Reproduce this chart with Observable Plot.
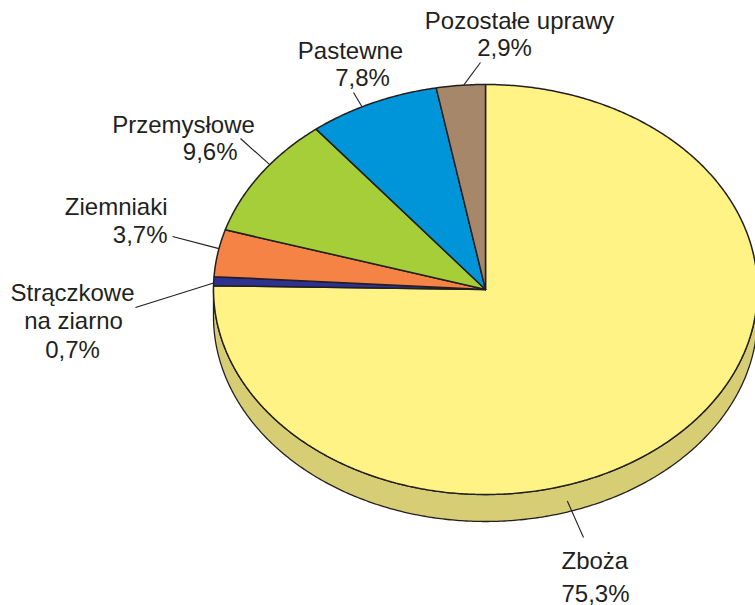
<!DOCTYPE html>
<html>
<head>
<meta charset="utf-8">
<script src="https://cdn.jsdelivr.net/npm/d3@7"></script>
<script src="https://cdn.jsdelivr.net/npm/@observablehq/plot@0.6"></script>
<style>
  html, body { margin: 0; padding: 0; background: #ffffff; }
  #chart { width: 755px; height: 605px; overflow: hidden; }
</style>
</head>
<body>
<div id="chart"></div>
<script>
// ---- data ----
const categoryLines = [["Zboża"], ["Strączkowe", "na ziarno"], ["Ziemniaki"], ["Przemysłowe"], ["Pastewne"], ["Pozostałe uprawy"]];
const categories = categoryLines.map(l => l.join(" "));
const shares = [75.3, 0.7, 3.7, 9.6, 7.8, 2.9];
const shareLabels = ["75,3%", "0,7%", "3,7%", "9,6%", "7,8%", "2,9%"];

// ---- styles ----
const topColors = ["#fff385", "#2e3192", "#f58345", "#a6ce39", "#0095d9", "#a6876a"];
const sideColors = ["#d7cd74", "#232670", "#c96a37", "#86a82e", "#0078b0", "#856c55"];
const ink = "#231f20";

// ---- layout (pixels) ----
const CX = 485, CY = 289, RX = 272, RY = 205, DEPTH = 27;
const toX = px => (px - CX) / RX;
const toY = py => (CY - py) / RY;
const depth = DEPTH / RY;

const labelLayout = [
  {lines: [[561, 568, "start"], [561, 601, "start"]], angle: 162.5, side: true, end: [583, 537]},
  {lines: [[72, 300, "middle"], [73, 328, "middle"], [72, 357, "middle"]], angle: 271.8, end: [135, 307]},
  {lines: [[167, 214, "end"], [167, 242, "end"]], angle: 281.5, end: [172, 236]},
  {lines: [[183, 132, "middle"], [237, 159, "end"]], angle: 307.5, end: [240, 138]},
  {lines: [[350, 58, "middle"], [362, 85, "middle"]], angle: 333, end: [353, 92]},
  {lines: [[519, 28, "middle"], [504, 55, "middle"]], angle: 355.4, end: [480, 62]}
];

// ---- geometry derived from data ----
const rad = d => d * Math.PI / 180;
const total = d3.sum(shares);
let acc = 0;
const slices = shares.map((v, i) => {
  const a0 = acc / total * 360;
  acc += v;
  const a1 = acc / total * 360;
  return {i, a0, a1};
});

function arcPts(a0, a1) {
  const n = Math.max(2, Math.ceil((a1 - a0) / 0.5));
  return d3.range(n + 1).map(k => {
    const a = a0 + (a1 - a0) * k / n;
    return [Math.sin(rad(a)), Math.cos(rad(a))];
  });
}

const topPts = [];
slices.forEach(s => {
  const pts = [[0, 0], ...arcPts(s.a0, s.a1), [0, 0]];
  pts.forEach(([x, y]) => topPts.push({key: "t" + s.i, x, y, fill: topColors[s.i]}));
});

const sidePts = [];
slices.forEach(s => {
  const b0 = Math.max(s.a0, 90), b1 = Math.min(s.a1, 270);
  if (b1 <= b0) return;
  const upper = arcPts(b0, b1);
  const lower = upper.slice().reverse().map(([x, y]) => [x, y - depth]);
  const pts = [...upper, ...lower, upper[0]];
  pts.forEach(([x, y]) => sidePts.push({key: "s" + s.i, x, y, fill: sideColors[s.i]}));
});

const leaders = labelLayout.map(l => {
  const x1 = Math.sin(rad(l.angle));
  const y1 = Math.cos(rad(l.angle)) - (l.side ? depth / 2 + 0.012 : 0);
  return {x1, y1, x2: toX(l.end[0]), y2: toY(l.end[1])};
});

const texts = [];
labelLayout.forEach((l, i) => {
  const strs = [...categoryLines[i], shareLabels[i]];
  strs.forEach((t, j) => {
    const [px, py, anchor] = l.lines[j];
    texts.push({x: toX(px), y: toY(py), text: t, anchor});
  });
});

const textOpts = anchor => ({
  x: "x", y: "y", text: "text",
  textAnchor: anchor, lineAnchor: "bottom",
  fill: ink, fontSize: 24,
  fontFamily: "'Liberation Sans', Arial, sans-serif"
});

const chart = Plot.plot({
  width: 755,
  height: 605,
  margin: 0,
  x: {domain: [-1, 1], range: [CX - RX, CX + RX], axis: null},
  y: {domain: [-1, 1], range: [CY + RY, CY - RY], axis: null},
  color: {type: "identity"},
  style: {background: "#ffffff", overflow: "hidden"},
  marks: [
    Plot.line(sidePts, {x: "x", y: "y", z: "key", fill: "fill", stroke: ink, strokeWidth: 1.3, curve: "linear"}),
    Plot.line(topPts, {x: "x", y: "y", z: "key", fill: "fill", stroke: ink, strokeWidth: 1.5, strokeLinejoin: "miter", curve: "linear"}),
    Plot.link(leaders, {x1: "x1", y1: "y1", x2: "x2", y2: "y2", stroke: ink, strokeWidth: 1.1}),
    Plot.text(texts.filter(d => d.anchor === "start"), textOpts("start")),
    Plot.text(texts.filter(d => d.anchor === "middle"), textOpts("middle")),
    Plot.text(texts.filter(d => d.anchor === "end"), textOpts("end"))
  ]
});
document.getElementById("chart").appendChild(chart);
</script>
</body>
</html>
